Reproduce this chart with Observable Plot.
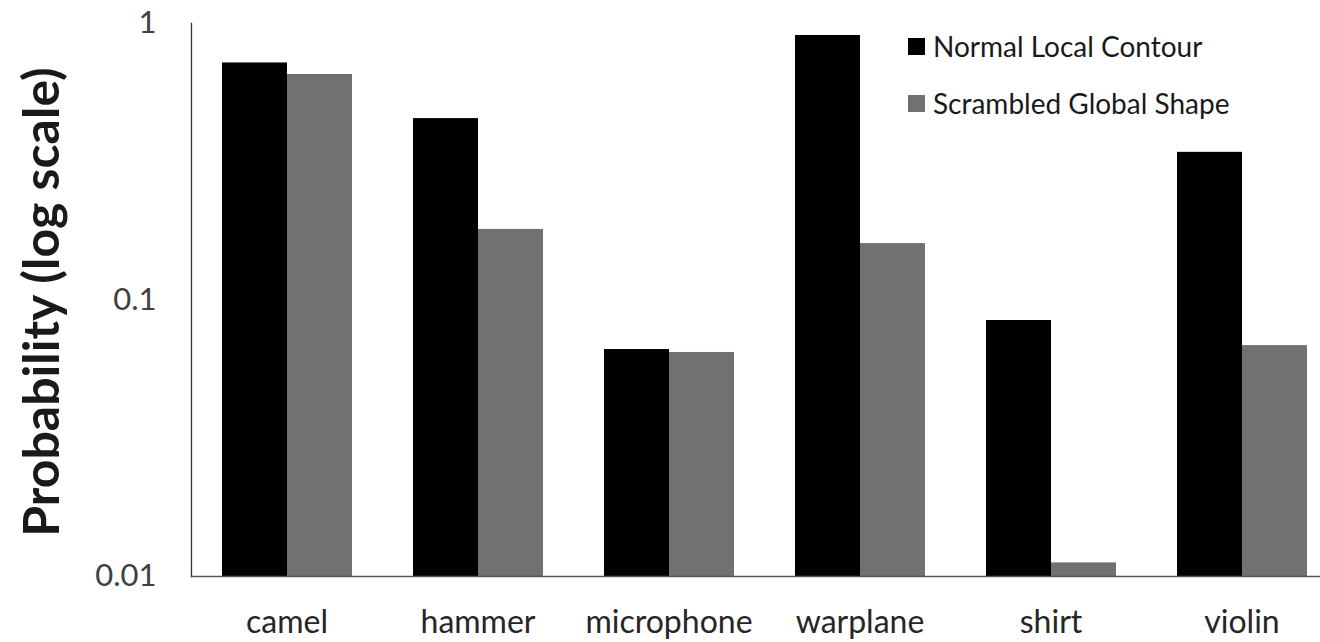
<!DOCTYPE html>
<html>
<head>
<meta charset="utf-8">
<script src="https://cdn.jsdelivr.net/npm/d3@7"></script>
<script src="https://cdn.jsdelivr.net/npm/@observablehq/plot@0.6"></script>
<style>
  html, body { margin: 0; padding: 0; background: #fff; }
  #wrap { position: relative; width: 1320px; height: 642px; font-family: Lato, "Noto Sans", sans-serif; }
  #legend { position: absolute; left: 908px; top: 28px; color: #1a1a1a; font-size: 28px; }
  #legend .row { display: flex; align-items: center; height: 36px; margin-bottom: 21px; }
  #legend .sw { width: 17px; height: 17px; margin-right: 8px; }
</style>
</head>
<body>
<div id="wrap"><div id="legend"></div></div>
<script>
// Object categories and the two stimulus conditions
const categories = ["camel", "hammer", "microphone", "warplane", "shirt", "violin"];
const conditions = ["Normal Local Contour", "Scrambled Global Shape"];
const normalValues = [0.72, 0.453, 0.0662, 0.905, 0.0843, 0.342];
const scrambledValues = [0.654, 0.18, 0.0646, 0.16, 0.0112, 0.0684];
const yTicks = [0.01, 0.1, 1];
const colors = ["#000000", "#717171"];

const rows = categories.flatMap((c, i) => [
  {category: c, condition: conditions[0], p: normalValues[i]},
  {category: c, condition: conditions[1], p: scrambledValues[i]}
]);

const chart = Plot.plot({
  width: 1320,
  height: 642,
  marginTop: 23,
  marginBottom: 66,
  marginLeft: 189,
  marginRight: -18,
  style: {fontFamily: "Lato, 'Noto Sans', sans-serif", background: "#fff"},
  // contiguous category slots; the gap between groups comes from the inner x padding
  fx: {domain: categories, padding: 0},
  x: {domain: conditions, paddingInner: 0, paddingOuter: 0.45, axis: null},
  y: {type: "log", domain: [0.01, 1]},
  color: {domain: conditions, range: colors},
  marks: [
    Plot.barY(rows, {fx: "category", x: "condition", y1: 0.01, y2: "p", fill: "condition"}),
    Plot.frame({anchor: "left", facet: "super", stroke: "#333", strokeWidth: 1.3}),
    Plot.frame({anchor: "bottom", facet: "super", stroke: "#555", strokeWidth: 1.6}),
    Plot.axisY({
      ticks: yTicks, tickFormat: d => String(d), tickSize: 0,
      tickPadding: 35, fontSize: 31, color: "#404040", label: null
    }),
    Plot.axisFx({anchor: "bottom", tickSize: 0, tickPadding: 34, fontSize: 32, color: "#262626", label: null}),
    Plot.text(["Probability (log scale)"], {
      text: d => d, facet: "super", frameAnchor: "left", textAnchor: "middle",
      dx: -149, dy: 2, rotate: -90, fontSize: 50, fontWeight: "bold", fill: "#1a1a1a"
    })
  ]
});
document.getElementById("wrap").prepend(chart);

// Legend: one swatch row per condition
const legend = d3.select("#legend");
conditions.forEach((c, i) => {
  const row = legend.append("div").attr("class", "row");
  row.append("div").attr("class", "sw").style("background", colors[i]);
  row.append("span").text(c);
});
</script>
</body>
</html>
